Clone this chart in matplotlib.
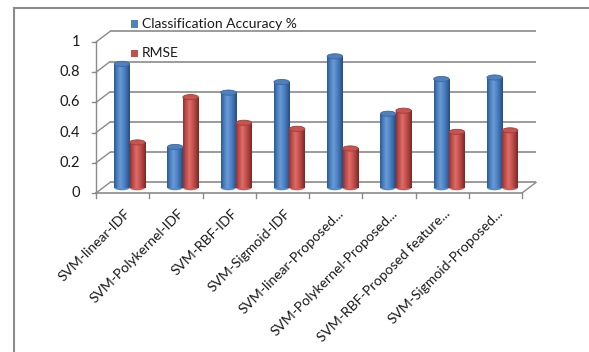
import matplotlib
matplotlib.use("Agg")
import matplotlib.pyplot as plt
import matplotlib.transforms as mtransforms
from matplotlib.patches import Ellipse, Rectangle
from matplotlib.colors import LinearSegmentedColormap
from matplotlib.lines import Line2D
import numpy as np

plt.rcParams['font.family'] = ['Lato', 'DejaVu Sans']

categories = [
    "SVM-linear-IDF",
    "SVM-Polykernel-IDF",
    "SVM-RBF-IDF",
    "SVM-Sigmoid-IDF",
    "SVM-linear-Proposed...",
    "SVM-Polykernel-Proposed...",
    "SVM-RBF-Proposed feature...",
    "SVM-Sigmoid-Proposed...",
]
accuracy = [0.82, 0.27, 0.63, 0.70, 0.87, 0.49, 0.72, 0.73]
rmse = [0.30, 0.60, 0.43, 0.39, 0.26, 0.51, 0.37, 0.38]
series_names = ["Classification Accuracy %", "RMSE"]
y_ticks = [0, 0.2, 0.4, 0.6, 0.8, 1.0]
y_tick_labels = ["0", "0.2", "0.4", "0.6", "0.8", "1"]

W_PX, H_PX = 589, 352
fig = plt.figure(figsize=(W_PX / 100, H_PX / 100), dpi=100)
fig.patch.set_facecolor("white")

# plot area (front plane of the 3-D box)
left, right, top, bottom = 96, 522, 42, 193
ax = fig.add_axes([left / W_PX, 1 - bottom / H_PX,
                   (right - left) / W_PX, (bottom - top) / H_PX])
n = len(categories)
ax.set_xlim(-0.5, n - 0.5)
ax.set_ylim(0, 1)
ax.set_facecolor("none")
for s in ax.spines.values():
    s.set_visible(False)
ax.set_xticks([])
ax.set_yticks([])

# depth of the 3-D box in data units
DX = 14 / ((right - left) / n)
DY = 0.07
grid_c = "#8a8a8a"

# back wall gridlines and their connectors to the value axis
for v, lab in zip(y_ticks, y_tick_labels):
    ax.plot([-0.5 + DX, n - 0.5 + DX], [v + DY, v + DY], color=grid_c,
            lw=1.2, clip_on=False, zorder=1, solid_capstyle="butt")
    ax.plot([-0.5, -0.5 + DX], [v, v + DY], color=grid_c, lw=1.0,
            clip_on=False, zorder=1)
    ax.plot([-0.5 - 0.08, -0.5], [v, v], color=grid_c, lw=1.0,
            clip_on=False, zorder=1)
    ax.text(-0.5, v, lab, ha="right", va="center",
            fontsize=10.5, color="#1a1a1a",
            transform=ax.transData + mtransforms.ScaledTranslation(
                -0.16, 0, fig.dpi_scale_trans))

# value axis line
ax.plot([-0.5, -0.5], [0, 1], color=grid_c, lw=1.0, clip_on=False, zorder=1)
# floor front edge, right edge and category ticks
ax.plot([-0.5, n - 0.5], [0, 0], color=grid_c, lw=1.2, clip_on=False, zorder=6)
ax.plot([n - 0.5, n - 0.5 + DX], [0, DY], color=grid_c, lw=1.0,
        clip_on=False, zorder=6)
for b in np.arange(-0.5, n, 1.0):
    ax.plot([b, b], [0, -0.03], color=grid_c, lw=1.0, clip_on=False, zorder=6)

# cylinder shading
blue_cmap = LinearSegmentedColormap.from_list(
    "blue_cyl", ["#2b5a91", "#4a7fc0", "#6a9ad6", "#5286c6", "#3c6dab", "#264c7c"])
red_cmap = LinearSegmentedColormap.from_list(
    "red_cyl", ["#943331", "#c0504d", "#de6c68", "#c85652", "#a83f3c", "#7a2725"])
grad = np.linspace(0, 1, 64).reshape(1, -1)

BW = 0.29
ELL_H = 0.034
base = DY / 2


def cylinder(xc, value, cmap, top_c, edge_c, z):
    x0, x1 = xc - BW / 2, xc + BW / 2
    y1 = base + value
    ax.add_patch(Ellipse((xc, base), BW, ELL_H, facecolor=cmap(0.55),
                         edgecolor="none", zorder=z, clip_on=False))
    ax.imshow(grad, cmap=cmap, extent=(x0, x1, base, y1), aspect="auto",
              zorder=z + 0.1, interpolation="bilinear", clip_on=False)
    ax.add_patch(Ellipse((xc, y1), BW, ELL_H, facecolor=top_c,
                         edgecolor=edge_c, lw=0.6, zorder=z + 0.2, clip_on=False))


for i in range(n):
    xb = i + DX / 2 - BW / 2
    xr = i + DX / 2 + BW / 2
    cylinder(xb, accuracy[i], blue_cmap, "#4f81bd", "#3a67a0", 3)
    cylinder(xr, rmse[i], red_cmap, "#c9534f", "#a03d3a", 4)

ax.set_xlim(-0.5, n - 0.5)
ax.set_ylim(0, 1)

# category labels
lab_tr = ax.transData + mtransforms.ScaledTranslation(0.02, -0.14, fig.dpi_scale_trans)
for i, c in enumerate(categories):
    ax.text(i, 0, c, rotation=45, ha="right", va="top", rotation_mode="anchor",
            fontsize=10, color="#1a1a1a", transform=lab_tr)

# legend
leg_colors = ["#4f81bd", "#c0504d"]
leg_y = [24, 53]
for name, col, yy in zip(series_names, leg_colors, leg_y):
    fig.patches.append(Rectangle((131 / W_PX, 1 - (yy + 3.5) / H_PX),
                                 7 / W_PX, 7 / H_PX, transform=fig.transFigure,
                                 facecolor=col, edgecolor="none"))
    fig.text(142 / W_PX, 1 - yy / H_PX, name, ha="left", va="center",
             fontsize=10, color="#1a1a1a")

# chart area border
border_c = "#8c8c8c"
fig.add_artist(Line2D([14 / W_PX, 14 / W_PX], [1 - 8 / H_PX, 0],
                      transform=fig.transFigure, color=border_c, lw=1.5))
fig.add_artist(Line2D([14 / W_PX, 1], [1 - 8 / H_PX, 1 - 8 / H_PX],
                      transform=fig.transFigure, color=border_c, lw=1.5))

fig.savefig("out.png", dpi=100)
